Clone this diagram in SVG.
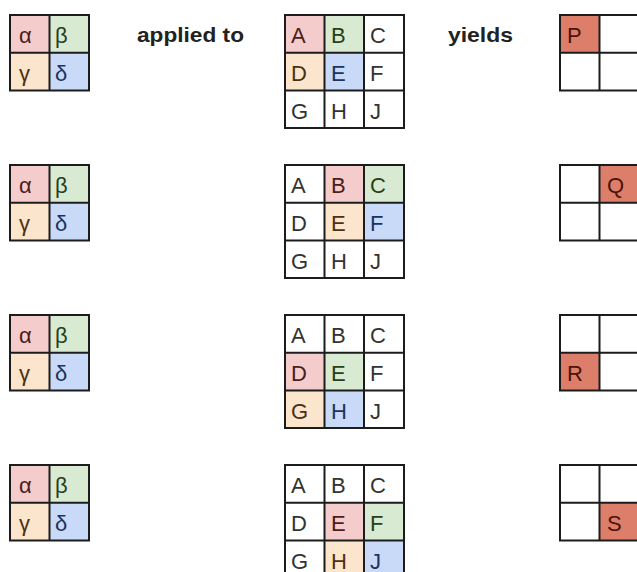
<svg xmlns="http://www.w3.org/2000/svg" width="637" height="572" viewBox="0 0 637 572">
<style>
.g{fill:none;stroke:#1c1c1c;stroke-width:2}
.pk{fill:#f4cccc}.gr{fill:#d9ead3}.or{fill:#fce5cd}.bl{fill:#c9daf8}.out{fill:#dd7e6b}
.t{font-family:"Liberation Sans",Arial,sans-serif;font-size:22px;fill:#333}
.tp{fill:#4d1c1c}.tg{fill:#27401a}.to{fill:#4d3010}.tb{fill:#1c3260}.tr{fill:#4a1408}
.lab{font-family:"Liberation Sans",Arial,sans-serif;font-size:21px;font-weight:bold;fill:#222}
</style>
<rect width="637" height="572" fill="#ffffff"/>
<text class="lab" x="137" y="42" textLength="107" lengthAdjust="spacingAndGlyphs">applied to</text>
<text class="lab" x="448" y="42" textLength="65" lengthAdjust="spacingAndGlyphs">yields</text>

<!-- Row 1 -->
<g id="kernel1">
<rect class="pk" x="10" y="15" width="39.5" height="37.7"/><rect class="gr" x="49.5" y="15" width="39.5" height="37.7"/>
<rect class="or" x="10" y="52.7" width="39.5" height="37.7"/><rect class="bl" x="49.5" y="52.7" width="39.5" height="37.7"/>
<path class="g" d="M10 15h79v75.4h-79zM49.5 15v75.4M10 52.7h79"/>
<text class="t tp" x="19" y="43">α</text><text class="t tg" x="55" y="43">β</text>
<text class="t to" x="19" y="81">γ</text><text class="t tb" x="55" y="81">δ</text>
</g>
<g id="input1">
<rect class="pk" x="285" y="15" width="39.5" height="37.7"/><rect class="gr" x="324.5" y="15" width="39.5" height="37.7"/>
<rect class="or" x="285" y="52.7" width="39.5" height="37.7"/><rect class="bl" x="324.5" y="52.7" width="39.5" height="37.7"/>
<path class="g" d="M285 15h119v113h-119zM324.5 15v113M364 15v113M285 52.7h119M285 90.4h119"/>
<text class="t tp" x="291" y="43">A</text><text class="t tg" x="331" y="43">B</text><text class="t" x="370" y="43">C</text>
<text class="t to" x="291" y="81">D</text><text class="t tb" x="331" y="81">E</text><text class="t" x="370" y="81">F</text>
<text class="t" x="291" y="118.5">G</text><text class="t" x="331" y="118.5">H</text><text class="t" x="370" y="118.5">J</text>
</g>
<g id="output1">
<rect class="out" x="560" y="15" width="39.5" height="37.7"/>
<path class="g" d="M560 15h80v75.4h-80zM599.5 15v75.4M560 52.7h80"/>
<text class="t tr" x="567" y="43">P</text>
</g>

<!-- Row 2 -->
<g id="kernel2">
<rect class="pk" x="10" y="165" width="39.5" height="37.7"/><rect class="gr" x="49.5" y="165" width="39.5" height="37.7"/>
<rect class="or" x="10" y="202.7" width="39.5" height="37.7"/><rect class="bl" x="49.5" y="202.7" width="39.5" height="37.7"/>
<path class="g" d="M10 165h79v75.4h-79zM49.5 165v75.4M10 202.7h79"/>
<text class="t tp" x="19" y="193">α</text><text class="t tg" x="55" y="193">β</text>
<text class="t to" x="19" y="231">γ</text><text class="t tb" x="55" y="231">δ</text>
</g>
<g id="input2">
<rect class="pk" x="324.5" y="165" width="39.5" height="37.7"/><rect class="gr" x="364" y="165" width="40" height="37.7"/>
<rect class="or" x="324.5" y="202.7" width="39.5" height="37.7"/><rect class="bl" x="364" y="202.7" width="40" height="37.7"/>
<path class="g" d="M285 165h119v113h-119zM324.5 165v113M364 165v113M285 202.7h119M285 240.4h119"/>
<text class="t" x="291" y="193">A</text><text class="t tp" x="331" y="193">B</text><text class="t tg" x="370" y="193">C</text>
<text class="t" x="291" y="231">D</text><text class="t to" x="331" y="231">E</text><text class="t tb" x="370" y="231">F</text>
<text class="t" x="291" y="268.5">G</text><text class="t" x="331" y="268.5">H</text><text class="t" x="370" y="268.5">J</text>
</g>
<g id="output2">
<rect class="out" x="599.5" y="165" width="40" height="37.7"/>
<path class="g" d="M560 165h80v75.4h-80zM599.5 165v75.4M560 202.7h80"/>
<text class="t tr" x="607" y="193">Q</text>
</g>

<!-- Row 3 -->
<g id="kernel3">
<rect class="pk" x="10" y="315" width="39.5" height="37.7"/><rect class="gr" x="49.5" y="315" width="39.5" height="37.7"/>
<rect class="or" x="10" y="352.7" width="39.5" height="37.7"/><rect class="bl" x="49.5" y="352.7" width="39.5" height="37.7"/>
<path class="g" d="M10 315h79v75.4h-79zM49.5 315v75.4M10 352.7h79"/>
<text class="t tp" x="19" y="343">α</text><text class="t tg" x="55" y="343">β</text>
<text class="t to" x="19" y="381">γ</text><text class="t tb" x="55" y="381">δ</text>
</g>
<g id="input3">
<rect class="pk" x="285" y="352.7" width="39.5" height="37.7"/><rect class="gr" x="324.5" y="352.7" width="39.5" height="37.7"/>
<rect class="or" x="285" y="390.4" width="39.5" height="37.6"/><rect class="bl" x="324.5" y="390.4" width="39.5" height="37.6"/>
<path class="g" d="M285 315h119v113h-119zM324.5 315v113M364 315v113M285 352.7h119M285 390.4h119"/>
<text class="t" x="291" y="343">A</text><text class="t" x="331" y="343">B</text><text class="t" x="370" y="343">C</text>
<text class="t tp" x="291" y="381">D</text><text class="t tg" x="331" y="381">E</text><text class="t" x="370" y="381">F</text>
<text class="t to" x="291" y="418.5">G</text><text class="t tb" x="331" y="418.5">H</text><text class="t" x="370" y="418.5">J</text>
</g>
<g id="output3">
<rect class="out" x="560" y="352.7" width="39.5" height="37.7"/>
<path class="g" d="M560 315h80v75.4h-80zM599.5 315v75.4M560 352.7h80"/>
<text class="t tr" x="567" y="381">R</text>
</g>

<!-- Row 4 -->
<g id="kernel4">
<rect class="pk" x="10" y="465" width="39.5" height="37.7"/><rect class="gr" x="49.5" y="465" width="39.5" height="37.7"/>
<rect class="or" x="10" y="502.7" width="39.5" height="37.7"/><rect class="bl" x="49.5" y="502.7" width="39.5" height="37.7"/>
<path class="g" d="M10 465h79v75.4h-79zM49.5 465v75.4M10 502.7h79"/>
<text class="t tp" x="19" y="493">α</text><text class="t tg" x="55" y="493">β</text>
<text class="t to" x="19" y="531">γ</text><text class="t tb" x="55" y="531">δ</text>
</g>
<g id="input4">
<rect class="pk" x="324.5" y="502.7" width="39.5" height="37.7"/><rect class="gr" x="364" y="502.7" width="40" height="37.7"/>
<rect class="or" x="324.5" y="540.4" width="39.5" height="37.6"/><rect class="bl" x="364" y="540.4" width="40" height="37.6"/>
<path class="g" d="M285 465h119v113h-119zM324.5 465v113M364 465v113M285 502.7h119M285 540.4h119"/>
<text class="t" x="291" y="493">A</text><text class="t" x="331" y="493">B</text><text class="t" x="370" y="493">C</text>
<text class="t" x="291" y="531">D</text><text class="t tp" x="331" y="531">E</text><text class="t tg" x="370" y="531">F</text>
<text class="t" x="291" y="568.5">G</text><text class="t to" x="331" y="568.5">H</text><text class="t tb" x="370" y="568.5">J</text>
</g>
<g id="output4">
<rect class="out" x="599.5" y="502.7" width="40" height="37.7"/>
<path class="g" d="M560 465h80v75.4h-80zM599.5 465v75.4M560 502.7h80"/>
<text class="t tr" x="607" y="531">S</text>
</g>
</svg>
